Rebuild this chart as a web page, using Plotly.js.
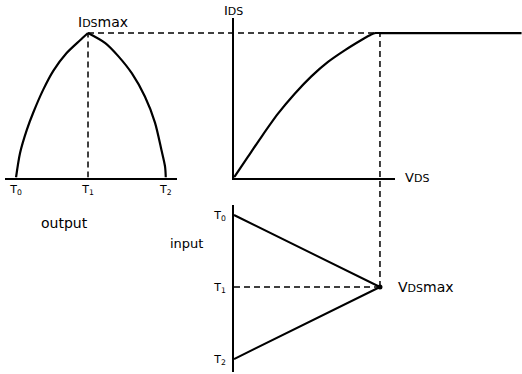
<!DOCTYPE html>
<html>
<head>
<meta charset="utf-8">
<script src="https://cdn.plot.ly/plotly-3.0.1.min.js"></script>
<style>
  html, body { margin: 0; padding: 0; background: #fff; }
  #chart { width: 522px; height: 374px; }
</style>
</head>
<body>
<div id="chart"></div>
<script>
// Output current I_DS over one swing of the input (T0 -> T1 -> T2)
const outTime = [0, 0.056, 0.15, 0.24, 0.38, 0.52, 0.70, 0.89, 1.0,
                 1.24, 1.42, 1.61, 1.79, 1.93, 2.02, 2.07, 2.08];
const outIds  = [0, 0.17, 0.33, 0.45, 0.61, 0.74, 0.86, 0.95, 1.0,
                 0.93, 0.84, 0.72, 0.56, 0.38, 0.19, 0.075, 0];

// Transfer characteristic I_DS versus V_DS (saturates at I_DS max)
const charVds = [0, 0.096, 0.187, 0.30, 0.416, 0.53, 0.644, 0.758, 0.87, 0.94, 0.97, 1.0, 1.97];
const charIds = [0, 0.144, 0.28, 0.44, 0.58, 0.70, 0.80, 0.88, 0.95, 0.99, 1.0, 1.0, 1.0];

// Triangular input V_DS over time
const inTime = [0, 1, 2];
const inVds  = [0, 1, 0];

// Tick positions and labels
const outTicks = [0, 1, 2.08];
const inTicks  = [0, 1, 2];
const tickText = ['T<sub>0</sub>', 'T<sub>1</sub>', 'T<sub>2</sub>'];

const idsMax = 1;
const vdsMax = 1;

const FONT = 'DejaVu Sans, sans-serif';
const INK = '#000';

const W = 522, H = 374;
const px = v => v / W;          // horizontal pixel -> paper
const py = v => 1 - v / H;      // vertical pixel -> paper

// Axes
const xOut = { domain: [px(5), px(177)], range: [-0.153, 2.236] };
const yIds = { domain: [py(177.5), py(18)], range: [0, 1.104] };
const xVds = { domain: [px(234), 1], range: [0, 1.973] };
const xVdsFrame = { domain: [px(234), px(395)], range: [0, 1.103] };
const yIn  = { domain: [py(372), py(205)], range: [2.18, -0.139] };

function toPaper(ax, v) {
  const [d0, d1] = ax.domain, [r0, r1] = ax.range;
  return d0 + (v - r0) / (r1 - r0) * (d1 - d0);
}

const solid = { color: INK, width: 2.2 };
const dashed = { color: INK, width: 1.5, dash: '6px,4px' };

const peak = outIds.indexOf(Math.max(...outIds));

const traces = [
  // output pulse, rising and falling halves
  { x: outTime.slice(0, peak + 1), y: outIds.slice(0, peak + 1), xaxis: 'x', yaxis: 'y',
    mode: 'lines', line: Object.assign({ shape: 'spline', smoothing: 0.8 }, solid) },
  { x: outTime.slice(peak), y: outIds.slice(peak), xaxis: 'x', yaxis: 'y',
    mode: 'lines', line: Object.assign({ shape: 'spline', smoothing: 0.8 }, solid) },
  // T1 drop line
  { x: [outTicks[1], outTicks[1]], y: [0, idsMax], xaxis: 'x', yaxis: 'y',
    mode: 'lines', line: dashed },
  // transfer characteristic
  { x: charVds, y: charIds, xaxis: 'x2', yaxis: 'y',
    mode: 'lines', line: Object.assign({ shape: 'spline', smoothing: 0.6 }, solid) },
  // holds the V_DS axis frame in place
  { x: [0], y: [0], xaxis: 'x4', yaxis: 'y', mode: 'lines', line: { width: 0 } },
  // input triangle
  { x: inVds, y: inTime, xaxis: 'x2', yaxis: 'y3',
    mode: 'lines', line: { color: INK, width: 2 } },
  // T1 level on the input
  { x: [0, vdsMax], y: [inTicks[1], inTicks[1]], xaxis: 'x2', yaxis: 'y3',
    mode: 'lines', line: dashed },
  // V_DS max point
  { x: [vdsMax], y: [inTicks[1]], xaxis: 'x2', yaxis: 'y3',
    mode: 'markers', marker: { color: INK, size: 5 }, cliponaxis: false }
];

const axBase = {
  showgrid: false, zeroline: false, ticks: '', fixedrange: true,
  linecolor: INK, linewidth: 2
};

const layout = {
  width: W, height: H,
  margin: { l: 0, r: 0, t: 0, b: 0 },
  paper_bgcolor: '#fff', plot_bgcolor: 'rgba(0,0,0,0)',
  showlegend: false,
  font: { family: FONT, color: INK, size: 12 },
  xaxis: Object.assign({}, axBase, xOut, {
    anchor: 'y', showline: true,
    tickmode: 'array', tickvals: outTicks, ticktext: tickText,
    tickfont: { family: FONT, size: 11, color: INK }
  }),
  yaxis: Object.assign({}, axBase, yIds, {
    anchor: 'x2', showline: true, showticklabels: false
  }),
  xaxis2: Object.assign({}, axBase, xVds, {
    anchor: 'y', showline: false, showticklabels: false
  }),
  xaxis4: Object.assign({}, axBase, xVdsFrame, {
    anchor: 'y', showline: true, showticklabels: false
  }),
  yaxis3: Object.assign({}, axBase, yIn, {
    anchor: 'x2', showline: true,
    tickmode: 'array', tickvals: inTicks, ticktext: tickText,
    tickfont: { family: FONT, size: 11, color: INK },
    ticklabelstandoff: 4
  }),
  shapes: [
    // I_DS max level carried across to the characteristic
    { type: 'line', xref: 'paper', yref: 'y',
      x0: toPaper(xOut, outTicks[1]), x1: toPaper(xVds, vdsMax), y0: idsMax, y1: idsMax,
      line: dashed },
    // V_DS max carried down to the input
    { type: 'line', xref: 'x2', yref: 'paper',
      x0: vdsMax, x1: vdsMax, y0: toPaper(yIn, inTicks[1]), y1: toPaper(yIds, idsMax),
      line: dashed }
  ],
  annotations: [
    { xref: 'x', yref: 'y', x: outTicks[1], y: idsMax, xanchor: 'left', yanchor: 'bottom',
      xshift: -12, yshift: 1, showarrow: false,
      text: 'I<span style="font-size:11px">DS</span>max', font: { size: 14 } },
    { xref: 'paper', yref: 'paper', x: px(222), y: py(20), xanchor: 'left', yanchor: 'bottom',
      showarrow: false, text: 'I<span style="font-size:11px">DS</span>', font: { size: 13 } },
    { xref: 'paper', yref: 'y', x: px(403), y: 0, xanchor: 'left', yanchor: 'middle',
      showarrow: false, text: 'V<span style="font-size:11px">DS</span>', font: { size: 13 } },
    { xref: 'x2', yref: 'y3', x: vdsMax, y: inTicks[1], xanchor: 'left', yanchor: 'middle',
      xshift: 16, showarrow: false,
      text: 'V<span style="font-size:11px">DS</span>max', font: { size: 14 } },
    { xref: 'paper', yref: 'paper', x: px(64), y: py(223), xanchor: 'center', yanchor: 'middle',
      showarrow: false, text: 'output', font: { size: 14 } },
    { xref: 'paper', yref: 'paper', x: px(186), y: py(243), xanchor: 'center', yanchor: 'middle',
      showarrow: false, text: 'input', font: { size: 13 } }
  ]
};

Plotly.newPlot('chart', traces, layout, { staticPlot: true, displayModeBar: false });
</script>
</body>
</html>
